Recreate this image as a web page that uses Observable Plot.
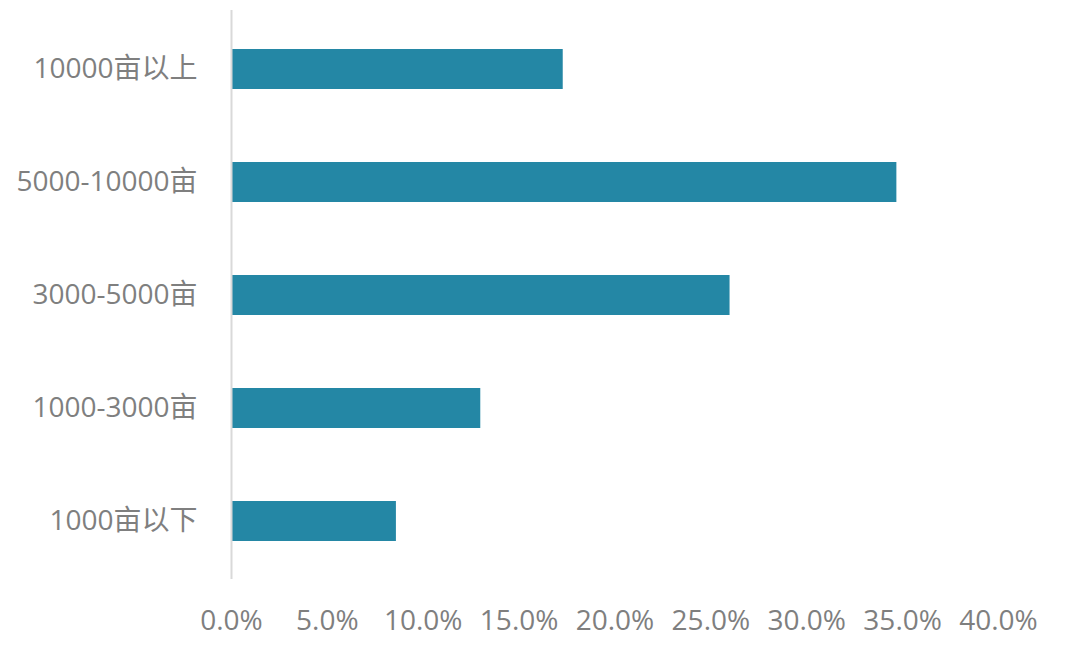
<!DOCTYPE html>
<html>
<head>
<meta charset="utf-8">
<script src="https://cdn.jsdelivr.net/npm/d3@7"></script>
<script src="https://cdn.jsdelivr.net/npm/@observablehq/plot@0.6"></script>
<style>
  html, body { margin: 0; padding: 0; background: #fff; }
  #chart svg { display: block; }
</style>
</head>
<body>
<div id="chart"></div>
<script>
const categories = ["10000亩以上", "5000-10000亩", "3000-5000亩", "1000-3000亩", "1000亩以下"];
const shares = [0.173, 0.347, 0.260, 0.130, 0.086];
const xTicks = [0, 0.05, 0.10, 0.15, 0.20, 0.25, 0.30, 0.35, 0.40];

const data = categories.map((c, i) => ({category: c, share: shares[i]}));

const chart = Plot.plot({
  width: 1080,
  height: 647,
  marginLeft: 231,
  marginRight: 82,
  marginTop: 10,
  marginBottom: 68,
  style: {
    fontFamily: "'Open Sans', 'Noto Sans CJK SC', sans-serif",
    fontSize: "28px",
    color: "#7f7f7f",
    background: "#ffffff"
  },
  x: {
    domain: [0, 0.40],
    ticks: xTicks,
    tickFormat: d => (d * 100).toFixed(1) + "%",
    label: null
  },
  y: {
    domain: categories,
    paddingInner: 0.65,
    paddingOuter: 0.33,
    label: null
  },
  marks: [
    Plot.barX(data, {x: "share", y: "category", fill: "#2487a5"}),
    Plot.ruleX([0], {stroke: "#d9d9d9", strokeWidth: 2}),
    Plot.axisX({ticks: xTicks, tickFormat: d => (d * 100).toFixed(1) + "%", tickSize: 0, tickPadding: 31, fill: "#7f7f7f", fontSize: 28, label: null}),
    Plot.axisY({tickSize: 0, tickPadding: 34, fill: "#7f7f7f", fontSize: 28, label: null})
  ]
});
document.getElementById("chart").appendChild(chart);
</script>
</body>
</html>
